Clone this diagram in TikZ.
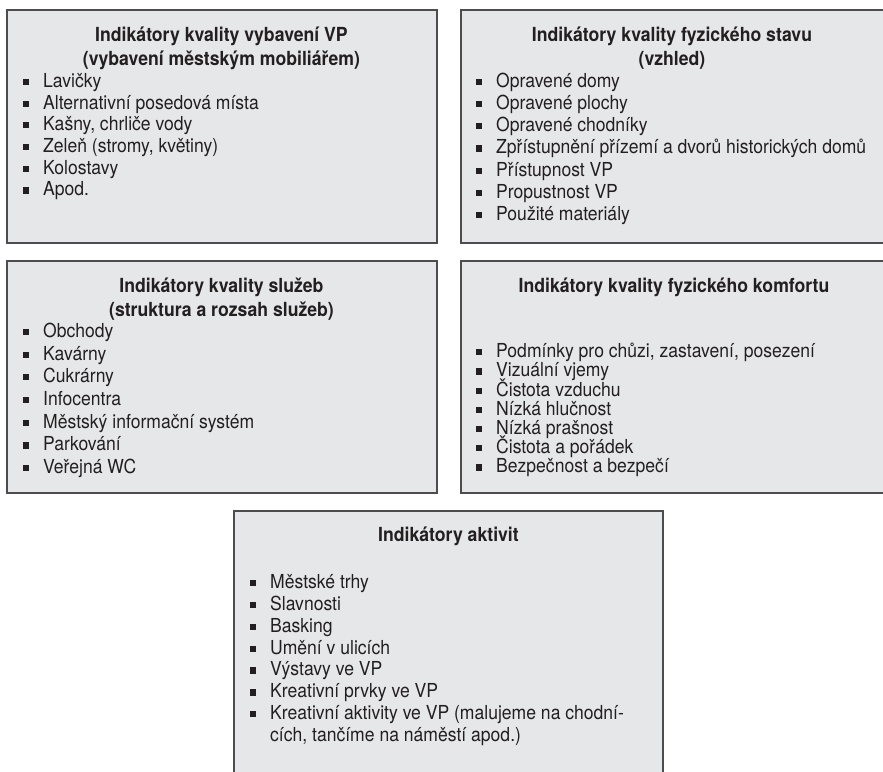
\documentclass[tikz,border=0pt]{standalone}
\usepackage{fontspec}
\setmainfont{TeX Gyre Heros}[FakeStretch=0.91]
\definecolor{boxfill}{HTML}{E6E7E8}
\definecolor{boxline}{HTML}{4D4D4F}
\definecolor{txt}{HTML}{231F20}
\newcommand{\sq}{\rule[2.3pt]{6.2pt}{6.2pt}\hspace{13.8pt}}
\tikzset{
  box/.style={draw=boxline, fill=boxfill, line width=1.3pt},
  head/.style={font=\bfseries\fontsize{19.4}{23.3}\selectfont, align=center,
    anchor=base, inner sep=0pt, text=txt},
  item/.style={font=\fontsize{19.3}{21.9}\selectfont, align=left,
    anchor=base west, inner sep=0pt, text=txt},
}
\begin{document}
\begin{tikzpicture}[x=1pt,y=-1pt]
\useasboundingbox (0,0) rectangle (883,771);
% boxes
\draw[box] (7,10) rectangle (437,243);
\draw[box] (461,10) rectangle (890,243);
\draw[box] (7,261) rectangle (437,493);
\draw[box] (461,261) rectangle (890,493);
\draw[box] (234,511) rectangle (663,780);
% headings (base = last line)
\node[head] (vybH) at (221.5,65) {Indikátory kvality vybavení VP\\(vybavení městským mobiliářem)};
\node[head] (stavH) at (672,65) {Indikátory kvality fyzického stavu\\(vzhled)};
\node[head] (sluzH) at (221.5,316) {Indikátory kvality služeb\\(struktura a rozsah služeb)};
\node[head] (komfH) at (674,292.7) {Indikátory kvality fyzického komfortu};
\node[head] (aktH) at (448.5,541.7) {Indikátory aktivit};
% lists
\foreach \t [count=\i from 0] in {Lavičky, Alternativní posedová místa,
    {Kašny, chrliče vody}, {Zeleň (stromy, květiny)}, Kolostavy, Apod.}
  \node[item] (vyb\i) at (23,{87.3+21.7*\i}) {\sq\t};
\foreach \t [count=\i from 0] in {Opravené domy, Opravené plochy, Opravené chodníky,
    Zpřístupnění přízemí a dvorů historických domů, Přístupnost VP,
    Propustnost VP, Použité materiály}
  \node[item] (stav\i) at (476,{87.3+22.2*\i}) {\sq\t};
\foreach \t [count=\i from 0] in {Obchody, Kavárny, Cukrárny, Infocentra,
    Městský informační systém, Parkování, Veřejná WC}
  \node[item] (sluz\i) at (23,{337.3+22.7*\i}) {\sq\t};
\foreach \t [count=\i from 0] in {{Podmínky pro chůzi, zastavení, posezení},
    Vizuální vjemy, Čistota vzduchu, Nízká hlučnost, Nízká prašnost,
    Čistota a pořádek, Bezpečnost a bezpečí}
  \node[item] (komf\i) at (476,{357.7+19.2*\i}) {\sq\t};
\foreach \t [count=\i from 0] in {Městské trhy, Slavnosti, Basking, Umění v ulicích,
    Výstavy ve VP, Kreativní prvky ve VP}
  \node[item] (akt\i) at (250,{588.3+21.9*\i}) {\sq\t};
\node[item] (akt6) at (250,741.6) {\sq Kreativní aktivity ve VP (malujeme na chodní-\\
  \hspace*{20pt}cích, tančíme na náměstí apod.)};
\end{tikzpicture}
\end{document}
